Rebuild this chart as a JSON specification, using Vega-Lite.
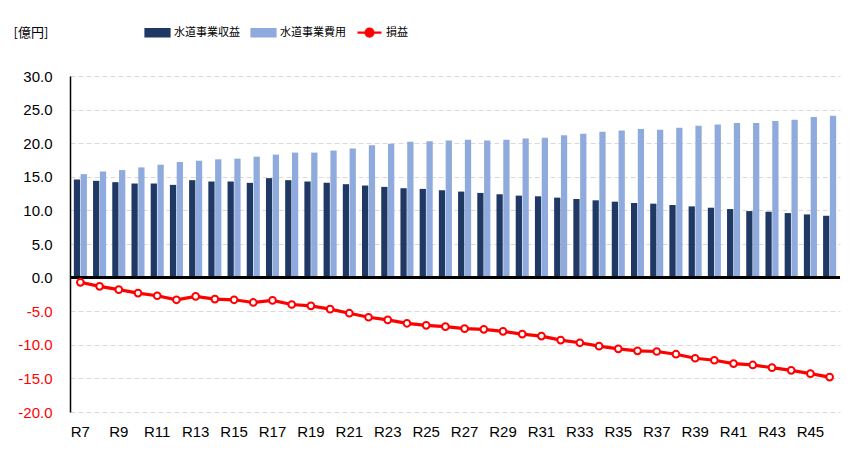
{
  "$schema": "https://vega.github.io/schema/vega-lite/v6.json",
  "width": 770,
  "height": 336,
  "autosize": {"type": "none"},
  "padding": {"left": 70, "top": 76, "right": 12, "bottom": 40},
  "background": "#ffffff",
  "config": {
    "view": {"stroke": null},
    "font": "Liberation Sans",
    "locale": {"number": {"decimal": ".", "thousands": ",", "grouping": [3], "currency": ["", ""], "minus": "-"}},
    "axisY": {
      "labelFont": "Liberation Sans",
      "labelFontSize": 15,
      "labelFontWeight": "normal",
      "labelOverlap": false,
      "labelPadding": 18,
      "ticks": false,
      "tickSize": 0,
      "domain": true,
      "domainColor": "#000000",
      "domainWidth": 1.5,
      "grid": true,
      "gridColor": "#d9d9d9",
      "gridDash": [5, 3],
      "gridWidth": 1,
      "titleFont": "Noto Sans CJK JP",
      "titleFontSize": 13,
      "titleFontWeight": "normal",
      "titleColor": "#000000"
    }
  },
  "data": {
    "values": [
      {"year": "R7", "水道事業収益": 14.6, "水道事業費用": 15.4, "損益": -0.7},
      {"year": "R8", "水道事業収益": 14.4, "水道事業費用": 15.8, "損益": -1.3},
      {"year": "R9", "水道事業収益": 14.2, "水道事業費用": 16.0, "損益": -1.8},
      {"year": "R10", "水道事業収益": 14.0, "水道事業費用": 16.4, "損益": -2.3},
      {"year": "R11", "水道事業収益": 14.0, "水道事業費用": 16.8, "損益": -2.7},
      {"year": "R12", "水道事業収益": 13.8, "水道事業費用": 17.2, "損益": -3.3},
      {"year": "R13", "水道事業収益": 14.5, "水道事業費用": 17.4, "損益": -2.8},
      {"year": "R14", "水道事業収益": 14.3, "水道事業費用": 17.6, "損益": -3.2},
      {"year": "R15", "水道事業収益": 14.3, "水道事業費用": 17.7, "損益": -3.3},
      {"year": "R16", "水道事業収益": 14.1, "水道事業費用": 18.0, "損益": -3.7},
      {"year": "R17", "水道事業収益": 14.8, "水道事業費用": 18.3, "損益": -3.4},
      {"year": "R18", "水道事業収益": 14.5, "水道事業費用": 18.6, "損益": -4.0},
      {"year": "R19", "水道事業収益": 14.3, "水道事業費用": 18.6, "損益": -4.2},
      {"year": "R20", "水道事業収益": 14.1, "水道事業費用": 18.9, "損益": -4.7},
      {"year": "R21", "水道事業収益": 13.9, "水道事業費用": 19.2, "損益": -5.3},
      {"year": "R22", "水道事業収益": 13.7, "水道事業費用": 19.7, "損益": -5.9},
      {"year": "R23", "水道事業収益": 13.5, "水道事業費用": 19.9, "損益": -6.3},
      {"year": "R24", "水道事業収益": 13.3, "水道事業費用": 20.2, "損益": -6.8},
      {"year": "R25", "水道事業収益": 13.2, "水道事業費用": 20.3, "損益": -7.1},
      {"year": "R26", "水道事業収益": 13.0, "水道事業費用": 20.4, "損益": -7.3},
      {"year": "R27", "水道事業収益": 12.8, "水道事業費用": 20.5, "損益": -7.6},
      {"year": "R28", "水道事業収益": 12.6, "水道事業費用": 20.4, "損益": -7.7},
      {"year": "R29", "水道事業収益": 12.4, "水道事業費用": 20.5, "損益": -8.0},
      {"year": "R30", "水道事業収益": 12.2, "水道事業費用": 20.7, "損益": -8.4},
      {"year": "R31", "水道事業収益": 12.1, "水道事業費用": 20.8, "損益": -8.7},
      {"year": "R32", "水道事業収益": 11.9, "水道事業費用": 21.2, "損益": -9.3},
      {"year": "R33", "水道事業収益": 11.7, "水道事業費用": 21.4, "損益": -9.7},
      {"year": "R34", "水道事業収益": 11.5, "水道事業費用": 21.7, "損益": -10.2},
      {"year": "R35", "水道事業収益": 11.3, "水道事業費用": 21.9, "損益": -10.6},
      {"year": "R36", "水道事業収益": 11.1, "水道事業費用": 22.1, "損益": -10.9},
      {"year": "R37", "水道事業収益": 11.0, "水道事業費用": 22.0, "損益": -11.0},
      {"year": "R38", "水道事業収益": 10.8, "水道事業費用": 22.3, "損益": -11.4},
      {"year": "R39", "水道事業収益": 10.6, "水道事業費用": 22.6, "損益": -12.0},
      {"year": "R40", "水道事業収益": 10.4, "水道事業費用": 22.8, "損益": -12.3},
      {"year": "R41", "水道事業収益": 10.2, "水道事業費用": 23.0, "損益": -12.8},
      {"year": "R42", "水道事業収益": 9.9, "水道事業費用": 23.0, "損益": -13.0},
      {"year": "R43", "水道事業収益": 9.8, "水道事業費用": 23.3, "損益": -13.4},
      {"year": "R44", "水道事業収益": 9.6, "水道事業費用": 23.5, "損益": -13.8},
      {"year": "R45", "水道事業収益": 9.4, "水道事業費用": 23.9, "損益": -14.3},
      {"year": "R46", "水道事業収益": 9.2, "水道事業費用": 24.1, "損益": -14.8}
    ]
  },
  "encoding": {
    "x": {
      "field": "year",
      "type": "nominal",
      "sort": null,
      "scale": {"paddingInner": 0.32},
      "axis": {
        "title": null,
        "orient": "bottom",
        "domain": false,
        "ticks": false,
        "grid": false,
        "labelAngle": 0,
        "labelFont": "Liberation Sans",
        "labelFontSize": 15,
        "labelFontWeight": "normal",
        "labelColor": "#000000",
        "labelPadding": 12,
        "labelOverlap": false,
        "values": ["R7","R9","R11","R13","R15","R17","R19","R21","R23","R25","R27","R29","R31","R33","R35","R37","R39","R41","R43","R45"]
      }
    }
  },
  "layer": [
    {
      "transform": [{"fold": ["水道事業収益", "水道事業費用"], "as": ["series", "amount"]}],
      "mark": {"type": "bar"},
      "encoding": {
        "xOffset": {"field": "series", "type": "nominal", "sort": null, "scale": {"paddingInner": 0.08}},
        "y": {
          "field": "amount",
          "type": "quantitative",
          "scale": {"domain": [-20, 30], "nice": false, "zero": false},
          "axis": {
            "title": "[億円]",
            "titleAngle": 0,
            "titleAlign": "left",
            "titleBaseline": "top",
            "titleX": -57,
            "titleY": -50,
            "values": [-20, -15, -10, -5, 0, 5, 10, 15, 20, 25, 30],
            "tickCount": 20,
            "format": ".1f",
            "labelColor": {"condition": {"test": "datum.value < 0", "value": "#ff0000"}, "value": "#000000"}
          }
        },
        "color": {
          "field": "series",
          "type": "nominal",
          "scale": {
            "domain": ["水道事業収益", "水道事業費用", "損益"],
            "range": ["#203864", "#8faadc", "#ff0000"]
          },
          "legend": {
            "title": null,
            "orient": "none",
            "direction": "horizontal",
            "legendX": 74,
            "legendY": -57,
            "padding": 0,
            "labelFont": "Noto Sans CJK JP",
            "labelFontSize": 11,
            "labelColor": "#000000",
            "labelOffset": 3,
            "columnPadding": 7,
            "symbolSize": 576,
            "symbolType": "M-1,-0.3H1V0.3H-1Z",
            "encode": {
              "symbols": {
                "update": {
                  "shape": {"signal": "datum.value === '損益' ? 'M-1,0H-0.33M0.33,0H1M-0.33,0A0.33,0.33 0 1,0 0.33,0A0.33,0.33 0 1,0 -0.33,0' : 'M-1,-0.3H1V0.3H-1Z'"},
                  "fill": {"signal": "datum.value === '損益' ? '#ffffff' : (datum.value === '水道事業収益' ? '#203864' : '#8faadc')"},
                  "stroke": {"signal": "datum.value === '損益' ? '#ff0000' : null"},
                  "strokeWidth": {"value": 2.2},
                  "opacity": {"value": 1}
                }
              }
            }
          }
        }
      }
    },
    {
      "mark": {"type": "rule", "color": "#000000", "strokeWidth": 1.5},
      "encoding": {
        "y": {
          "datum": 0,
          "type": "quantitative",
          "axis": {
            "title": "[億円]",
            "titleAngle": 0,
            "titleAlign": "left",
            "titleBaseline": "top",
            "titleX": -57,
            "titleY": -50,
            "values": [-20, -15, -10, -5, 0, 5, 10, 15, 20, 25, 30],
            "tickCount": 20,
            "format": ".1f",
            "labelColor": {"condition": {"test": "datum.value < 0", "value": "#ff0000"}, "value": "#000000"}
          }
        },
        "x": {"value": 0},
        "x2": {"value": 770}
      }
    },
    {
      "mark": {"type": "line", "strokeWidth": 3.2},
      "encoding": {
        "y": {
          "field": "損益",
          "type": "quantitative",
          "axis": {
            "title": "[億円]",
            "titleAngle": 0,
            "titleAlign": "left",
            "titleBaseline": "top",
            "titleX": -57,
            "titleY": -50,
            "values": [-20, -15, -10, -5, 0, 5, 10, 15, 20, 25, 30],
            "tickCount": 20,
            "format": ".1f",
            "labelColor": {"condition": {"test": "datum.value < 0", "value": "#ff0000"}, "value": "#000000"}
          }
        },
        "color": {"datum": "損益"}
      }
    },
    {
      "mark": {"type": "point", "filled": true, "fill": "#ffffff", "stroke": "#ff0000", "strokeWidth": 2, "size": 45, "opacity": 1},
      "encoding": {
        "y": {
          "field": "損益",
          "type": "quantitative",
          "axis": {
            "title": "[億円]",
            "titleAngle": 0,
            "titleAlign": "left",
            "titleBaseline": "top",
            "titleX": -57,
            "titleY": -50,
            "values": [-20, -15, -10, -5, 0, 5, 10, 15, 20, 25, 30],
            "tickCount": 20,
            "format": ".1f",
            "labelColor": {"condition": {"test": "datum.value < 0", "value": "#ff0000"}, "value": "#000000"}
          }
        }
      }
    }
  ]
}
